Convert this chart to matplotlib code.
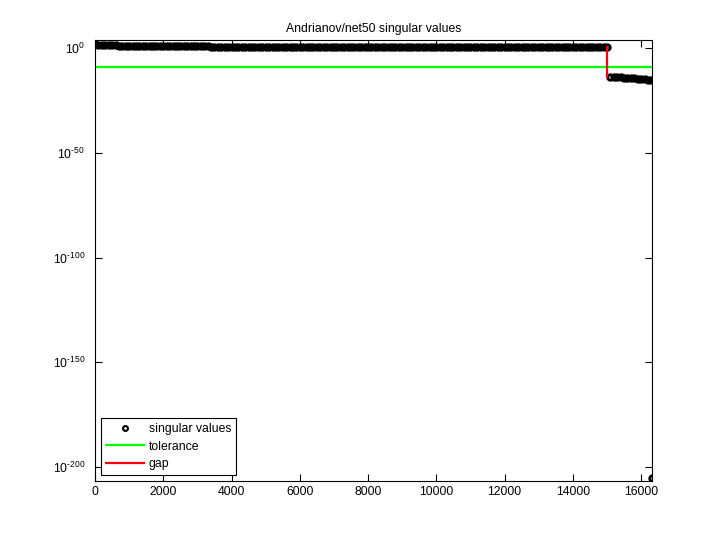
import numpy as np
import matplotlib
matplotlib.use('Agg')
import matplotlib.pyplot as plt
from matplotlib.ticker import NullLocator

plt.rcParams['font.family'] = ['Liberation Sans', 'DejaVu Sans']
plt.rcParams['mathtext.default'] = 'regular'

# matrix size and singular value indices (read every 100 values)
n_rows = 16320
sv_idx = list(range(1, 16302, 100)) + [16320]

# log10 of singular values
sv_log10 = [
    # 1 .. 701
    2.3, 1.6, 1.5, 1.5, 1.4, 1.4, 1.4, 1.3,
    # 801 .. 3301
    1.1, 1.1, 1.1, 1.1, 1.1, 1.1, 1.1, 1.1, 1.1, 1.1,
    1.1, 1.1, 1.1, 1.1, 1.1, 1.1, 1.1, 1.1, 1.0, 1.0,
    1.0, 1.0, 1.0, 1.0, 1.0, 1.0,
    # 3401 .. 15001
    0.6, 0.6, 0.6, 0.6, 0.6, 0.6, 0.6, 0.6, 0.6, 0.6,
    0.6, 0.6, 0.6, 0.6, 0.6, 0.6, 0.6, 0.6, 0.6, 0.6,
    0.6, 0.6, 0.6, 0.6, 0.6, 0.6, 0.6, 0.6, 0.6, 0.6,
    0.6, 0.6, 0.6, 0.6, 0.6, 0.6, 0.6, 0.6, 0.6, 0.6,
    0.6, 0.6, 0.6, 0.6, 0.6, 0.6, 0.6, 0.6, 0.6, 0.6,
    0.6, 0.6, 0.6, 0.6, 0.6, 0.6, 0.6, 0.6, 0.6, 0.6,
    0.6, 0.6, 0.6, 0.6, 0.6, 0.6, 0.6, 0.6, 0.6, 0.6,
    0.6, 0.6, 0.6, 0.6, 0.6, 0.6, 0.6, 0.6, 0.6, 0.6,
    0.6, 0.6, 0.6, 0.6, 0.6, 0.6, 0.6, 0.6, 0.6, 0.6,
    0.6, 0.6, 0.6, 0.6, 0.6, 0.6, 0.6, 0.6, 0.6, 0.6,
    0.6, 0.6, 0.6, 0.6, 0.6, 0.6, 0.6, 0.6, 0.6, 0.6,
    0.6, 0.6, 0.6, 0.5, 0.5, 0.5, 0.5,
    # 15101 .. 16301, then 16320
    -13.6, -13.7, -13.8, -13.9, -14.0, -14.1, -14.2, -14.3,
    -14.4, -14.5, -14.7, -14.9, -15.2,
    -205.3,
]

tol_log10 = -8.8
gap_idx = 15006
gap_log10 = [0.5, -13.5]

ytick_exp = [0, -50, -100, -150, -200]
xticks = [0, 2000, 4000, 6000, 8000, 10000, 12000, 14000, 16000]

sv = 10.0 ** np.array(sv_log10)

fig = plt.figure(figsize=(7.2, 5.4), dpi=100)
ax = fig.add_axes([95/720, 1-481/540, (652-95)/720, (481-40)/540])

ax.semilogy(sv_idx, sv, 'o', mfc='none', mec='k', ms=4.0, mew=2.0,
            label='singular values')
ax.plot([0, n_rows], [10.0**tol_log10]*2, color=(0, 1, 0), lw=1.6, label='tolerance')
ax.plot([gap_idx, gap_idx], 10.0**np.array(gap_log10), color=(1, 0, 0), lw=1.6, label='gap')

ax.set_xlim(0, n_rows)
ax.set_ylim(10.0**-206.7, 10.0**4)
ax.set_xticks(xticks)
ax.set_xticklabels([str(t) for t in xticks])
ax.set_yticks([10.0**e for e in ytick_exp])
ax.set_yticklabels(['$10^{%s}$' % str(e).replace('-', '\u2010') for e in ytick_exp])
ax.yaxis.set_minor_locator(NullLocator())
ax.tick_params(direction='in', top=True, right=True, length=5, labelsize=8.8, width=0.8)
ax.tick_params(axis='y', pad=7)
for s in ax.spines.values():
    s.set_linewidth(0.8)

ax.set_title('Andrianov/net50 singular values', fontsize=8.8)

leg = ax.legend(loc='lower left', fontsize=8.8, fancybox=False, framealpha=1,
                edgecolor='k', borderaxespad=0.5, handlelength=3.1,
                handletextpad=0.4, labelspacing=0.45)
leg.get_frame().set_linewidth(0.8)
leg.legend_handles[0].set_markersize(3.5)
leg.legend_handles[0].set_markeredgewidth(1.5)

fig.savefig('out.png', dpi=100)
